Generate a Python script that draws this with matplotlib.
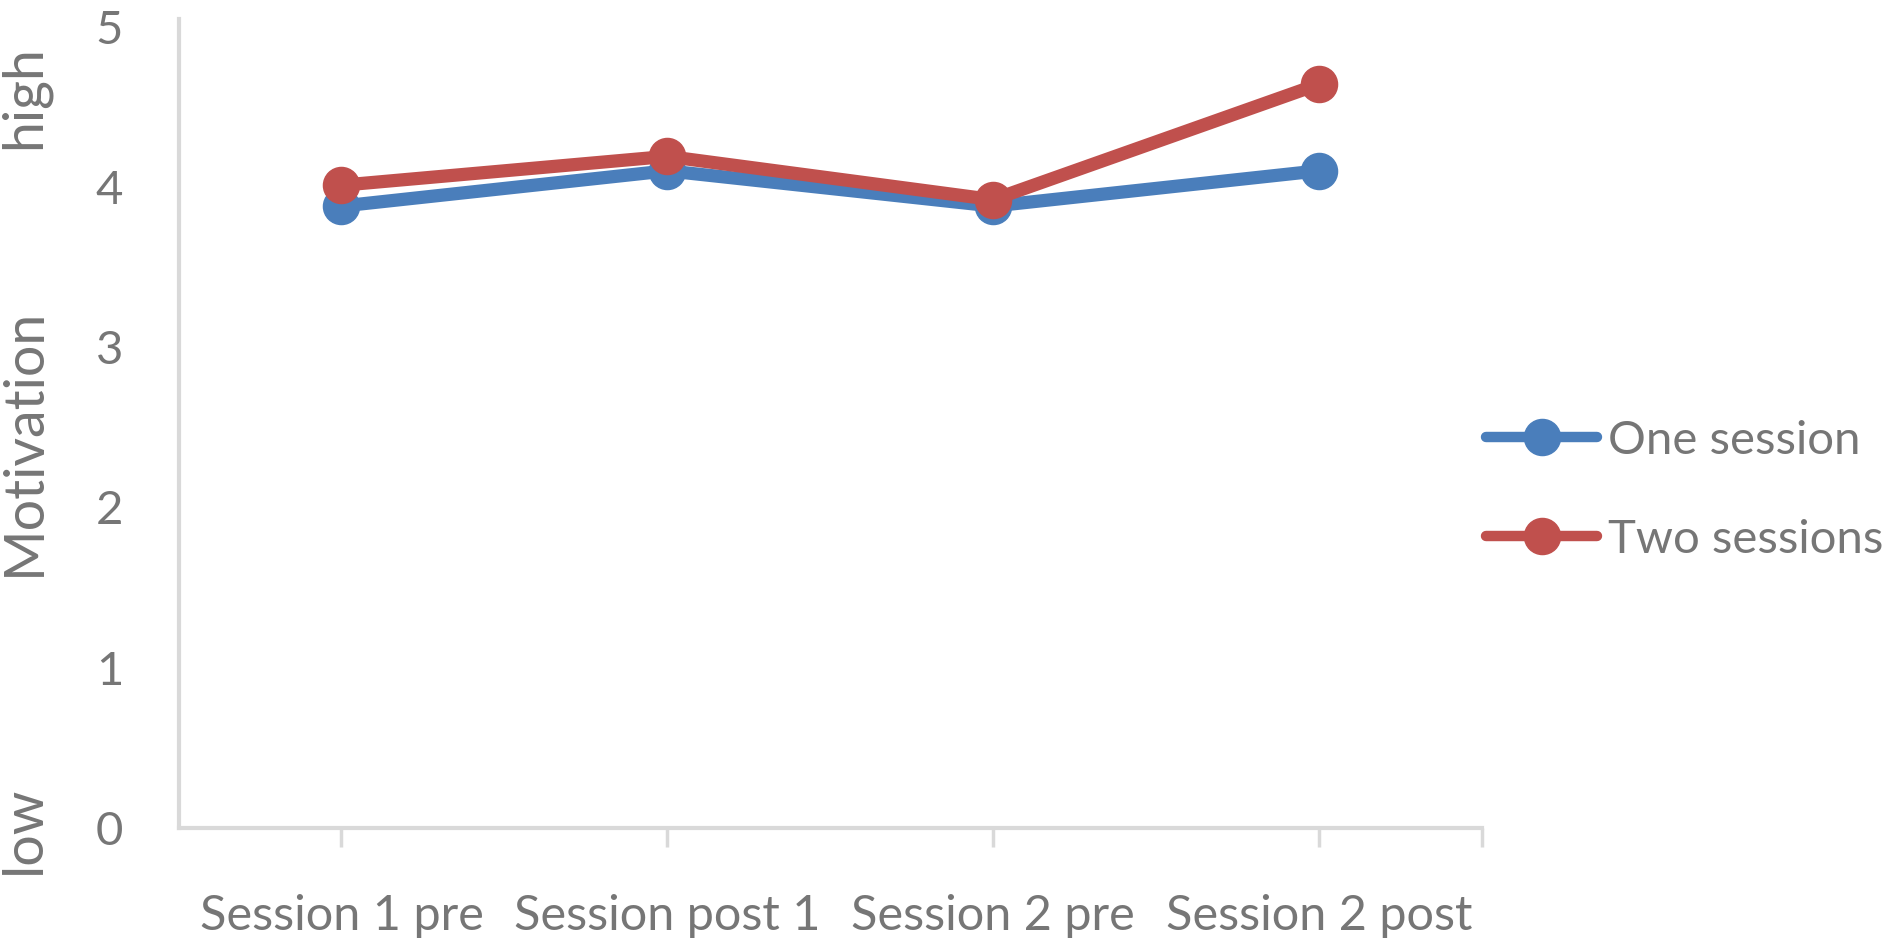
import matplotlib
matplotlib.use("Agg")
import matplotlib.pyplot as plt

categories = ["Session 1 pre", "Session post 1", "Session 2 pre", "Session 2 post"]
one_session = [3.88, 4.10, 3.88, 4.10]
two_sessions = [4.01, 4.19, 3.92, 4.64]
series_names = ["One session", "Two sessions"]
yticks = [0, 1, 2, 3, 4, 5]

BLUE = "#4A7EBB"
RED = "#C0504D"
TEXT = "#767676"
AXIS = "#D9D9D9"

plt.rcParams['font.family'] = ['Lato', 'DejaVu Sans']

fig = plt.figure(figsize=(18.92, 9.5), dpi=100)
ax = fig.add_axes([0.0944, 0.1287, 0.6887, 0.8433])

x = list(range(len(categories)))
ax.plot(x, one_session, color=BLUE, lw=9.5, marker='o', ms=26, label=series_names[0],
        solid_joinstyle='round', zorder=3)
ax.plot(x, two_sessions, color=RED, lw=9.5, marker='o', ms=26, label=series_names[1],
        solid_joinstyle='round', zorder=4)

ax.set_xlim(-0.5, 3.5)
ax.set_ylim(0, 5)
ax.set_yticks(yticks)
ax.set_yticklabels([str(v) for v in yticks])
ax.set_xticks(x + [3.5])
ax.set_xticklabels(categories + [""])

for s in ["top", "right"]:
    ax.spines[s].set_visible(False)
for s in ["left", "bottom"]:
    ax.spines[s].set_color(AXIS)
    ax.spines[s].set_linewidth(3)
ax.spines["left"].set_bounds(0, 5.05)
ax.spines["left"].set_clip_on(False)

ax.tick_params(axis='y', length=0, pad=40, labelsize=34, labelcolor=TEXT)
ax.tick_params(axis='x', length=14, width=2.5, color=AXIS, pad=34, labelsize=35, labelcolor=TEXT)

# y-axis labels
fig.text(0.013, 0.535, "Motivation", rotation=90, ha='center', va='center', fontsize=40, color=TEXT)
fig.text(0.013, 0.898, "high", rotation=90, ha='center', va='center', fontsize=40, color=TEXT)
fig.text(0.013, 0.126, "low", rotation=90, ha='center', va='center', fontsize=40, color=TEXT)

leg = ax.legend(loc='center left', bbox_to_anchor=(0.7855, 0.484), bbox_transform=fig.transFigure,
                frameon=False, fontsize=34, labelcolor=TEXT, handlelength=2.35, handletextpad=0.22,
                labelspacing=1.2, borderaxespad=0, borderpad=0)
for h in leg.get_lines():
    h.set_solid_capstyle('round')
    h.set_linewidth(7.5)

fig.savefig("out.png", dpi=100)
